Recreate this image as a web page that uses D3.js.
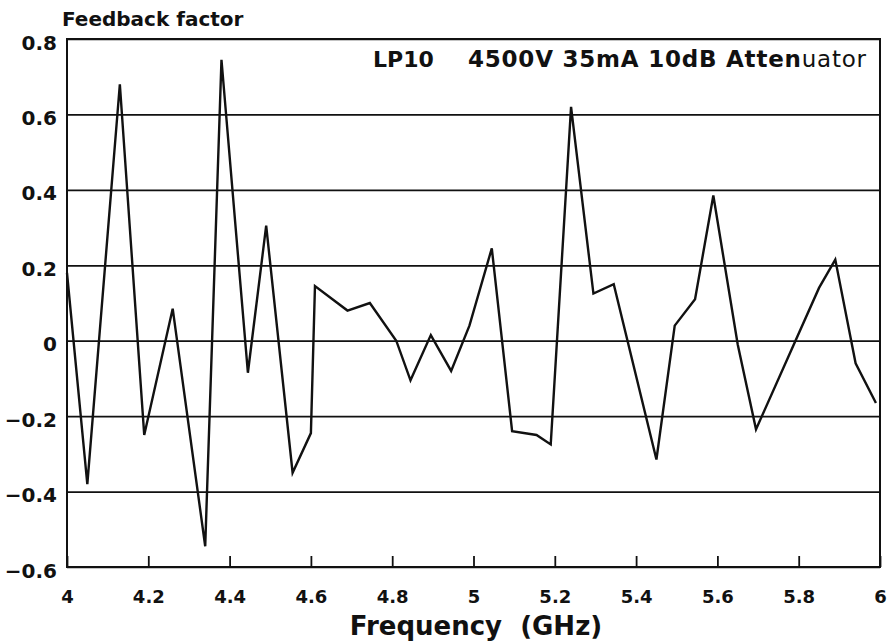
<!DOCTYPE html>
<html>
<head>
<meta charset="utf-8">
<script src="https://cdn.jsdelivr.net/npm/d3@7"></script>
<style>
  html, body { margin: 0; padding: 0; background: #fff; }
  svg text { font-family: "DejaVu Sans", sans-serif; font-weight: bold; fill: #111; }
</style>
</head>
<body>
<svg id="chart" width="891" height="642"></svg>
<script>
// Measured feedback factor versus frequency
const freqGHz = [4.00, 4.05, 4.13, 4.19, 4.26, 4.34, 4.38, 4.445, 4.49, 4.555,
                 4.60, 4.61, 4.69, 4.745, 4.81, 4.845, 4.895, 4.945, 4.99, 5.045,
                 5.095, 5.155, 5.19, 5.24, 5.295, 5.345, 5.45, 5.495, 5.545, 5.59,
                 5.65, 5.695, 5.85, 5.89, 5.94, 5.99];
const feedback = [0.18, -0.38, 0.68, -0.25, 0.085, -0.545, 0.745, -0.085, 0.305, -0.35,
                  -0.245, 0.145, 0.08, 0.10, 0.0, -0.105, 0.015, -0.08, 0.04, 0.245,
                  -0.24, -0.25, -0.275, 0.62, 0.125, 0.15, -0.315, 0.04, 0.11, 0.385,
                  -0.01, -0.235, 0.14, 0.215, -0.06, -0.165];

const xTicks = [4, 4.2, 4.4, 4.6, 4.8, 5, 5.2, 5.4, 5.6, 5.8, 6];
const xTickLabels = ["4", "4.2", "4.4", "4.6", "4.8", "5", "5.2", "5.4", "5.6", "5.8", "6"];
const yTicks = [-0.6, -0.4, -0.2, 0, 0.2, 0.4, 0.6, 0.8];
const yTickLabels = ["\u22120.6", "\u22120.4", "\u22120.2", "0", "0.2", "0.4", "0.6", "0.8"];

const yTitle = "Feedback factor";
const xTitle = "Frequency\u00a0\u00a0(GHz)";
const runName = "LP10";
const runConditions = "4500V 35mA 10dB Atten";
const runConditionsTail = "uator";

const plot = { left: 67, right: 880, top: 39, bottom: 567 };

const svg = d3.select("#chart");

const x = d3.scaleLinear().domain([4, 6]).range([plot.left, plot.right]);
const y = d3.scaleLinear().domain([-0.6, 0.8]).range([plot.bottom, plot.top]);

// Horizontal grid lines with value labels on the left
const yAxis = svg.append("g")
  .attr("transform", `translate(${plot.left},0)`)
  .call(d3.axisLeft(y)
    .tickValues(yTicks)
    .tickSize(-(plot.right - plot.left))
    .tickPadding(10)
    .tickFormat((d, i) => yTickLabels[i]));
yAxis.select(".domain").remove();
yAxis.selectAll(".tick line").attr("stroke", "#111").attr("stroke-width", 1.7);
yAxis.selectAll(".tick text")
  .attr("font-size", 20)
  .attr("dy", null)
  .attr("y", 10)
  .attr("font-family", "DejaVu Sans")
  .attr("font-weight", "bold");

// Frequency axis with inward ticks
const xAxis = svg.append("g")
  .attr("transform", `translate(0,${plot.bottom})`)
  .call(d3.axisBottom(x)
    .tickValues(xTicks)
    .tickSize(-11)
    .tickPadding(23)
    .tickFormat((d, i) => xTickLabels[i]));
xAxis.select(".domain").remove();
xAxis.selectAll(".tick line").attr("stroke", "#111").attr("stroke-width", 1.8);
xAxis.selectAll(".tick text")
  .attr("font-size", 18)
  .attr("font-family", "DejaVu Sans")
  .attr("font-weight", "bold");

// Plot frame
svg.append("rect")
  .attr("x", plot.left).attr("y", plot.top)
  .attr("width", plot.right - plot.left)
  .attr("height", plot.bottom - plot.top)
  .attr("fill", "none")
  .attr("stroke", "#111")
  .attr("stroke-width", 2);

// Data trace
const line = d3.line()
  .x((d, i) => x(freqGHz[i]))
  .y(d => y(d));
svg.append("path")
  .datum(feedback)
  .attr("d", line)
  .attr("fill", "none")
  .attr("stroke", "#111")
  .attr("stroke-width", 2.4)
  .attr("stroke-linejoin", "miter");

// Titles
svg.append("text")
  .attr("x", 62).attr("y", 26)
  .attr("font-size", 20)
  .text(yTitle);

svg.append("text")
  .attr("x", 476).attr("y", 635)
  .attr("text-anchor", "middle")
  .attr("font-size", 26)
  .text(xTitle);

svg.append("text")
  .attr("x", 373).attr("y", 67)
  .attr("font-size", 22)
  .text(runName);

const cond = svg.append("text")
  .attr("x", 468).attr("y", 67)
  .attr("font-size", 23)
  .attr("textLength", 398)
  .attr("lengthAdjust", "spacing");
cond.append("tspan").text(runConditions);
cond.append("tspan").attr("font-weight", "normal").text(runConditionsTail);
</script>
</body>
</html>
